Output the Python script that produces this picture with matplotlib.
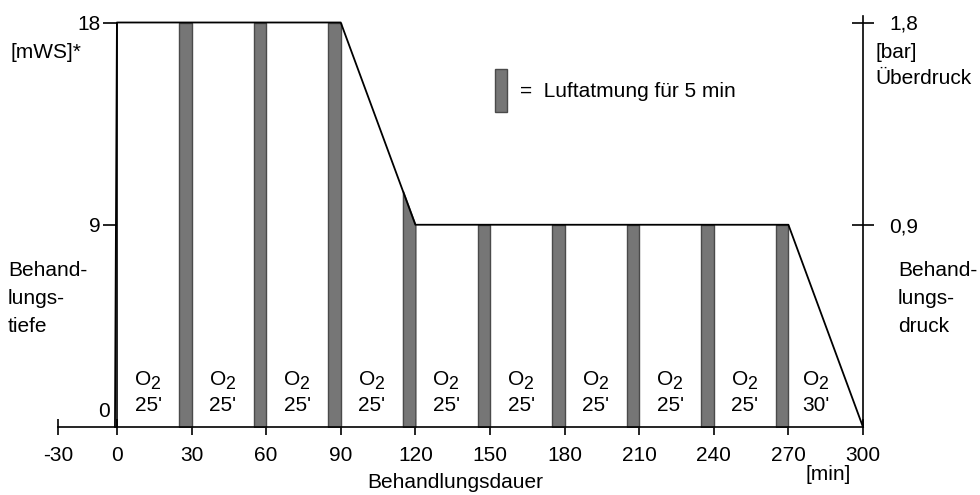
import numpy as np
import matplotlib
matplotlib.use("Agg")
import matplotlib.pyplot as plt
from matplotlib.patches import Rectangle

plt.rcParams['font.family'] = ['Liberation Sans', 'DejaVu Sans']

FS = 15

# treatment profile: time [min] -> depth [mWS]
profile_t = [-1, 0, 90, 120, 270, 300]
profile_d = [0, 18, 18, 9, 9, 0]

# air breathing breaks, start times [min], each 5 min long
air_start = [25, 55, 85, 115, 145, 175, 205, 235, 265]
air_len = 5

# O2 breathing periods (label position, duration)
o2_pos = [12.5, 42.5, 72.5, 102.5, 132.5, 162.5, 192.5, 222.5, 252.5, 281]
o2_dur = ["25'", "25'", "25'", "25'", "25'", "25'", "25'", "25'", "25'", "30'"]

x_ticks = [-30, 0, 30, 60, 90, 120, 150, 180, 210, 240, 270, 300]
depth_ticks = [9, 18]
bar_ticks = [0.9, 1.8]
bar_labels = ["0,9", "1,8"]

BAR_FACE = "#767676"
BAR_EDGE = "#4a4a4a"


# the negative part of the time axis is drawn compressed
def fwd(x):
  x = np.asarray(x, dtype=float)
  return np.where(x < 0, x * 0.79, x)

def inv(x):
  x = np.asarray(x, dtype=float)
  return np.where(x < 0, x / 0.79, x)


fig = plt.figure(figsize=(9.8, 4.95), dpi=100)
ax = fig.add_axes([58 / 980, 68 / 495, 805 / 980, 404.5 / 495])
ax.set_xscale('function', functions=(fwd, inv))
ax.set_xlim(-30, 300)
ax.set_ylim(0, 18)

for s in ['top', 'right']:
  ax.spines[s].set_visible(False)
ax.spines['left'].set_position(('data', 0))
ax.spines['left'].set_linewidth(1.2)
ax.spines['bottom'].set_linewidth(1.2)

# air breaks
for s in air_start:
  xs = [s, s + air_len]
  ys = np.interp(xs, profile_t, profile_d)
  ax.fill_between(xs, 0, ys, facecolor=BAR_FACE, edgecolor=BAR_EDGE, linewidth=1.0, zorder=2)

# profile
ax.plot(profile_t, profile_d, color='black', linewidth=1.3, clip_on=False, zorder=3)

# O2 labels
for p, d in zip(o2_pos, o2_dur):
  ax.annotate("O", (p, 2.1), xytext=(-3.5, 0), textcoords='offset points',
              ha='center', va='center', fontsize=FS)
  ax.annotate("2", (p, 2.1), xytext=(5, -3.5), textcoords='offset points',
              ha='center', va='center', fontsize=FS * 0.85)
  ax.text(p, 0.95, d, ha='center', va='center', fontsize=FS)

# legend box
ax.add_patch(Rectangle((152, 14.0), air_len, 1.95, facecolor=BAR_FACE, edgecolor=BAR_EDGE, linewidth=1.0))
ax.text(162, 14.95, "=  Luftatmung für 5 min", ha='left', va='center', fontsize=FS)

# x axis
ax.set_xticks(x_ticks)
ax.set_xticklabels([str(v) for v in x_ticks], fontsize=FS)
ax.tick_params(axis='x', direction='inout', length=12, width=1.2, pad=8)

# left axis
ax.set_yticks(depth_ticks)
ax.set_yticklabels([str(v) for v in depth_ticks], fontsize=FS)
ax.tick_params(axis='y', direction='out', length=10, width=1.2, pad=2)
ax.text(-3.5, 0.25, "0", ha='right', va='bottom', fontsize=FS)

# right axis
ax2 = ax.twinx()
ax2.set_ylim(0, 1.8)
for s in ['top', 'left', 'bottom']:
  ax2.spines[s].set_visible(False)
ax2.spines['right'].set_linewidth(1.2)
ax2.spines['right'].set_bounds(0, 1.83)
ax2.set_yticks(bar_ticks)
ax2.set_yticklabels(bar_labels, fontsize=FS)
ax2.tick_params(axis='y', direction='inout', length=16, width=1.2, pad=11)

# axis captions
fig.text(10 / 980, 1 - 52 / 495, "[mWS]*", ha='left', va='center', fontsize=FS)
fig.text(8 / 980, 1 - 298 / 495, "Behand-\nlungs-\ntiefe", ha='left', va='center', fontsize=FS, linespacing=1.6)
fig.text(875 / 980, 1 - 52 / 495, "[bar]", ha='left', va='center', fontsize=FS)
fig.text(875 / 980, 1 - 78 / 495, "Überdruck", ha='left', va='center', fontsize=FS)
fig.text(898 / 980, 1 - 298 / 495, "Behand-\nlungs-\ndruck", ha='left', va='center', fontsize=FS, linespacing=1.6)
fig.text(828 / 980, 1 - 475 / 495, "[min]", ha='center', va='center', fontsize=FS)
fig.text(455 / 980, 1 - 483 / 495, "Behandlungsdauer", ha='center', va='center', fontsize=FS)

fig.savefig("out.png", dpi=100)
